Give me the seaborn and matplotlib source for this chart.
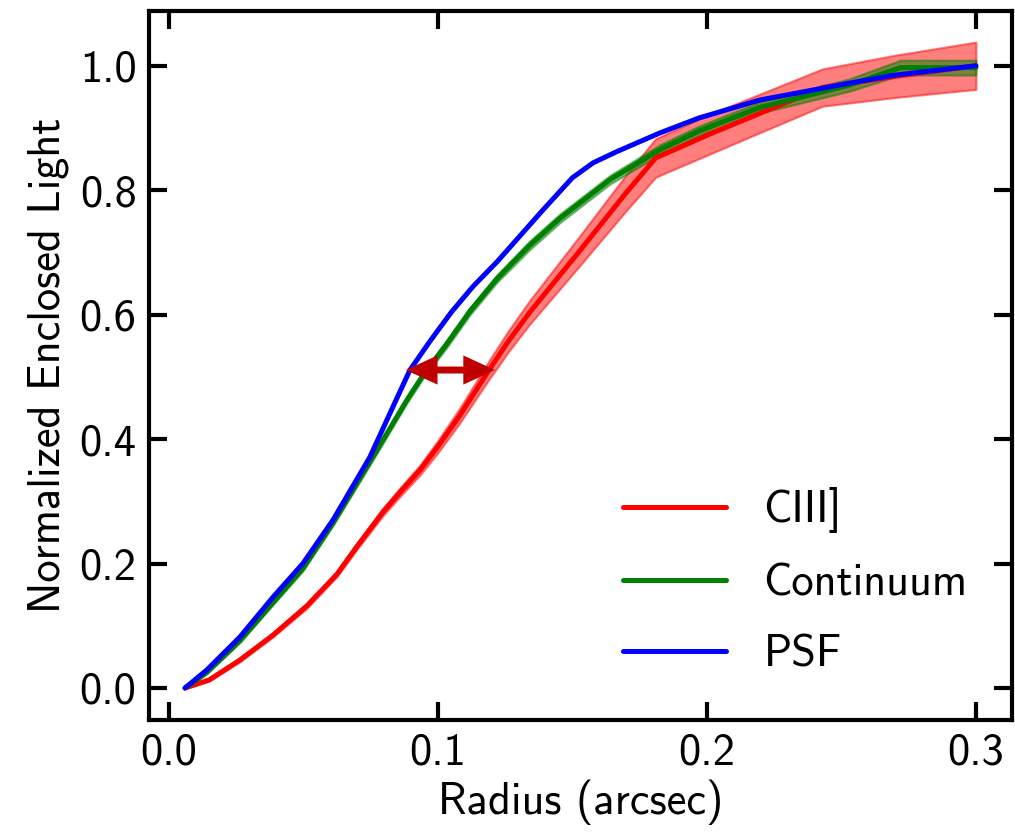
import numpy as np
import pandas as pd
import matplotlib
matplotlib.use("Agg")
import matplotlib.pyplot as plt
from matplotlib.patches import FancyArrowPatch
import seaborn as sns

# ---- data ----
red_x = [0.006, 0.015, 0.0264, 0.0387, 0.0513, 0.0625, 0.070, 0.0796, 0.0866, 0.0933,
         0.100, 0.108, 0.119, 0.126, 0.134, 0.153, 0.170, 0.181, 0.201, 0.220,
         0.243, 0.270, 0.300]
red_y = [0.0, 0.013, 0.045, 0.085, 0.132, 0.183, 0.228, 0.283, 0.318, 0.350,
         0.388, 0.437, 0.511, 0.556, 0.603, 0.704, 0.796, 0.852, 0.890, 0.924,
         0.965, 0.983, 1.0]
red_err = [0.001, 0.002, 0.003, 0.003, 0.004, 0.004, 0.005, 0.006, 0.007, 0.008,
           0.010, 0.012, 0.015, 0.017, 0.019, 0.024, 0.029, 0.031, 0.032, 0.031,
           0.030, 0.034, 0.038]

green_x = [0.006, 0.0141, 0.0264, 0.0387, 0.0498, 0.061, 0.0758, 0.0885, 0.0944, 0.1033,
           0.112, 0.122, 0.134, 0.1454, 0.164, 0.1825, 0.197, 0.2197, 0.253, 0.272, 0.300]
green_y = [0.0, 0.025, 0.076, 0.137, 0.192, 0.265, 0.371, 0.463, 0.502, 0.553,
           0.606, 0.658, 0.711, 0.755, 0.817, 0.865, 0.895, 0.933, 0.969, 0.997, 0.997]
green_err = [0.001, 0.002, 0.003, 0.003, 0.004, 0.004, 0.005, 0.005, 0.005, 0.006,
             0.006, 0.006, 0.007, 0.007, 0.007, 0.008, 0.008, 0.009, 0.010, 0.012, 0.012]

blue_x = [0.006, 0.0141, 0.0264, 0.0387, 0.0498, 0.061, 0.0747, 0.0833, 0.0896, 0.097,
          0.105, 0.113, 0.122, 0.139, 0.150, 0.1577, 0.1665, 0.1825, 0.197, 0.2197,
          0.253, 0.270, 0.300]
blue_y = [0.0, 0.029, 0.082, 0.146, 0.200, 0.270, 0.371, 0.452, 0.511, 0.557,
          0.604, 0.645, 0.685, 0.768, 0.820, 0.844, 0.862, 0.892, 0.916, 0.945,
          0.972, 0.985, 1.0]

labels = ["CIII]", "Continuum", "PSF"]
x_ticks = [0.0, 0.1, 0.2, 0.3]
y_ticks = [0.0, 0.2, 0.4, 0.6, 0.8, 1.0]
arrow_x0, arrow_x1, arrow_y = 0.0881, 0.1212, 0.511

sns.set_theme(style="ticks")
plt.rcParams["font.family"] = ["cmss10", "DejaVu Sans"]
plt.rcParams["axes.unicode_minus"] = False
plt.rcParams["mathtext.fontset"] = "cm"
for k in ["text.color", "axes.labelcolor", "xtick.color", "ytick.color", "axes.edgecolor"]:
    plt.rcParams[k] = "black"

fig = plt.figure(figsize=(10.15, 8.33), dpi=100)
ax = fig.add_axes([0.1468, 0.1357, 0.997 - 0.1468, 0.9868 - 0.1357])

FS = 32
LW = 3.6

red = pd.DataFrame({"x": red_x, "y": red_y, "e": red_err})
green = pd.DataFrame({"x": green_x, "y": green_y, "e": green_err})
blue = pd.DataFrame({"x": blue_x, "y": blue_y})

ax.fill_between(red["x"], red["y"] - red["e"], red["y"] + red["e"],
                color="red", alpha=0.5, lw=1.5)
sns.lineplot(data=red, x="x", y="y", color="red", lw=LW, ax=ax,
             label=labels[0], sort=False, estimator=None)
ax.fill_between(green["x"], green["y"] - green["e"], green["y"] + green["e"],
                color="green", alpha=0.5, lw=1.5)
sns.lineplot(data=green, x="x", y="y", color="green", lw=LW, ax=ax,
             label=labels[1], sort=False, estimator=None)
sns.lineplot(data=blue, x="x", y="y", color="blue", lw=LW, ax=ax,
             label=labels[2], sort=False, estimator=None)

arrow = FancyArrowPatch((arrow_x0, arrow_y), (arrow_x1, arrow_y),
                        arrowstyle="<|-|>,head_length=1.3,head_width=0.6",
                        mutation_scale=11, color="#bf0000", lw=5,
                        shrinkA=0, shrinkB=0, joinstyle="miter", zorder=5)
ax.add_patch(arrow)

ax.set_xlim(-0.0074, 0.3134)
ax.set_ylim(-0.0514, 1.088)
ax.set_xticks(x_ticks)
ax.set_yticks(y_ticks)
ax.set_xticklabels([f"{v:.1f}" for v in x_ticks])
ax.set_yticklabels([f"{v:.1f}" for v in y_ticks])

ax.tick_params(which="both", direction="in", top=True, right=True,
               length=13, width=3, labelsize=FS, pad=9, color="black",
               labelcolor="black")
for s in ax.spines.values():
    s.set_linewidth(3)
    s.set_color("black")

ax.set_xlabel("Radius (arcsec)", fontsize=FS, labelpad=4, color="black")
ax.set_ylabel("Normalized Enclosed Light", fontsize=FS, labelpad=8, color="black")

leg = ax.legend(loc="lower right", frameon=False, fontsize=FS,
                handlelength=2.3, handletextpad=0.85, labelspacing=0.68,
                borderaxespad=0.6)
for h in leg.get_lines():
    h.set_linewidth(LW)
for t in leg.get_texts():
    t.set_color("black")

fig.savefig("out.png", dpi=100)
